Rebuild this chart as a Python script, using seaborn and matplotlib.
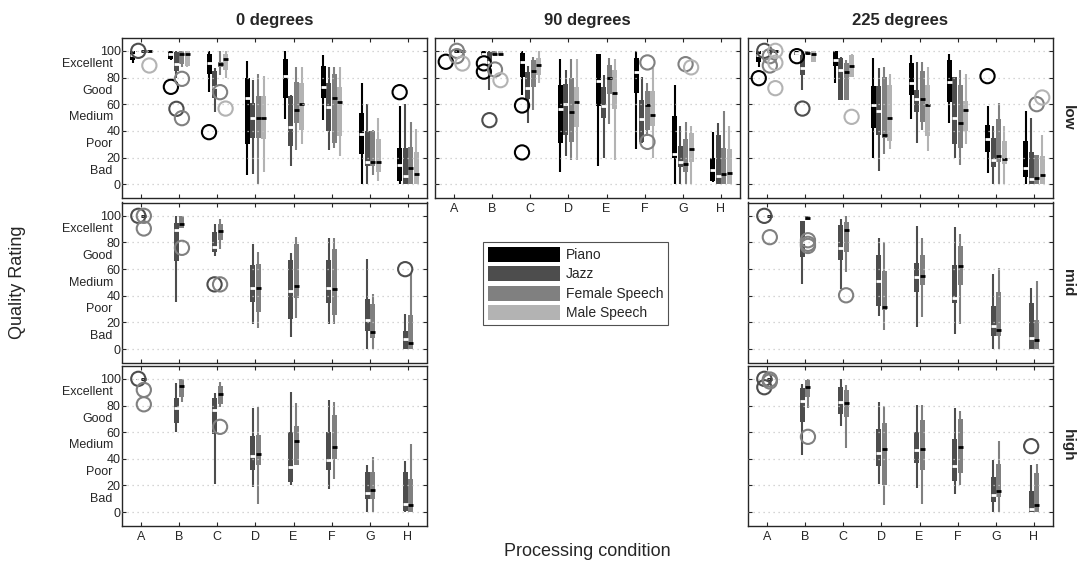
import numpy as np
import pandas as pd
import matplotlib
matplotlib.use("Agg")
import matplotlib.pyplot as plt
from matplotlib.patches import Patch
from matplotlib.transforms import blended_transform_factory
import seaborn as sns

CONDS = ["A", "B", "C", "D", "E", "F", "G", "H"]
SOURCES = ["Piano", "Jazz", "Female Speech", "Male Speech"]
COL_TITLES = ["0 degrees", "90 degrees", "225 degrees"]
ROW_TITLES = ["low", "mid", "high"]
RATING_TICKS = [0, 20, 40, 60, 80, 100]
RATING_WORDS = ["Bad", "Poor", "Medium", "Good", "Excellent"]
RATING_WORD_POS = [10, 30, 50, 70, 90]

# each box: (whisker low, q1, median, q3, whisker high) for A..H

# low, 0 degrees
low0_piano = [(91, 93.5, 97, 100, 100), (93, 94, 98, 100, 100), (69.5, 82.4, 90.6, 97.5, 100), (7, 30.4, 64.6, 79.5, 92.6),
              (49, 64.6, 81, 94, 100), (48.5, 64.6, 72.8, 88.6, 96.8), (0, 22.5, 37.4, 53.5, 76), (0, 2.7, 14.4, 27, 59)]
low0_jazz = [(99, 99.5, 100, 100, 100), (80, 85, 90, 99, 100), (54, 64.6, 73, 85, 87), (8, 35, 49.8, 61, 78),
             (14, 29, 43, 66, 67), (26, 40, 58, 75.7, 88), (0, 14, 17, 40, 60), (0, 0, 6, 27, 60)]
low0_female = [(99, 99.5, 100, 100, 100), (88, 90.5, 97.5, 100, 100), (82, 88, 90, 92, 100), (0, 35, 49.8, 66, 82.4),
               (26, 46, 56, 77, 88), (27, 31, 64.6, 82.7, 88), (7, 14, 17, 40, 41), (0, 0, 12.4, 28, 47)]
low0_male = [(99, 99.5, 100, 100, 100), (88, 89, 97.5, 100, 100), (79.5, 85.6, 93.6, 97.5, 100), (9.4, 33.7, 49.8, 66, 81.4),
             (30, 41, 60.4, 75.7, 88), (21, 36, 61.4, 73, 88), (2.7, 9, 17, 33.7, 50), (0, 0, 7.7, 24, 41.6)]
low0_out = [("A", "Jazz", 100), ("A", "Male Speech", 89), ("B", "Piano", 73), ("B", "Jazz", 56.5),
            ("B", "Female Speech", 79), ("B", "Female Speech", 49.5), ("C", "Piano", 39),
            ("C", "Female Speech", 69), ("C", "Male Speech", 56.7), ("H", "Piano", 69)]

# low, 90 degrees
low90_piano = [(99, 99.5, 100, 100, 100), (96.8, 96.8, 98, 100, 100), (67, 80.7, 91.3, 98.5, 100), (9, 31, 56.7, 74.5, 93.8),
               (13.9, 58.4, 77.7, 97.5, 98), (26.7, 68.3, 84.4, 94.3, 100), (0, 20, 22.5, 51, 74.5), (1.5, 2.7, 10.6, 20, 39)]
low90_jazz = [(99, 99.5, 100, 100, 100), (70.8, 88, 92, 99, 100), (46, 63.9, 72.5, 84.4, 89), (20.8, 36.6, 60.4, 75, 85.6),
              (20, 49.8, 59, 72.8, 82), (31, 31.5, 49, 63.4, 80.7), (0, 12.6, 17, 28.7, 43.6), (0, 0, 6.4, 36.6, 46)]
low90_female = [(99, 99.5, 100, 100, 100), (96.8, 97, 98, 100, 100), (55.4, 73, 85, 93, 95.5), (18, 32, 54, 80, 93.8),
                (44.8, 67.8, 79.5, 89.4, 94.3), (36, 41, 59.7, 69.6, 76), (0, 9, 15, 33.7, 46.5), (0, 0, 8, 27.5, 55)]
low90_male = [(99, 99.5, 100, 100, 100), (96.8, 97, 98, 100, 100), (75.7, 82, 89.4, 94.3, 100), (18, 43, 61.4, 73, 93.8),
              (18, 56.4, 68.3, 86, 94), (20, 43.6, 52, 70, 87), (0, 16.8, 26.2, 38.6, 43.6), (0, 0, 8.4, 26.7, 43.6)]
low90_out = [("A", "Piano", 91.8), ("A", "Female Speech", 100), ("A", "Female Speech", 96), ("A", "Male Speech", 90.5),
             ("B", "Piano", 90.6), ("B", "Piano", 84.4), ("B", "Jazz", 48), ("B", "Female Speech", 86),
             ("B", "Male Speech", 78), ("C", "Piano", 59), ("C", "Piano", 23.8), ("F", "Female Speech", 91.3),
             ("F", "Female Speech", 31.7), ("G", "Female Speech", 90), ("G", "Male Speech", 87.6)]

# low, 225 degrees
low225_piano = [(88, 92, 97, 100, 100), (97, 97, 98.5, 100, 100), (75.7, 88.6, 93, 100, 100), (20, 42.3, 59.7, 73.3, 94.3),
                (49, 67, 76.2, 90.6, 96.8), (46, 62, 76.5, 93, 97.5), (8.4, 23.8, 33.7, 44.3, 59), (0, 5.2, 11.9, 32.4, 55)]
low225_jazz = [(99, 99.5, 100, 100, 100), (71, 82, 87, 96.8, 100), (63.4, 63.4, 85.6, 94.3, 95.5), (10, 36.6, 54.7, 73.3, 87),
               (31, 54, 64, 70.8, 91.8), (20, 30, 50, 80.7, 80.7), (0, 12.6, 18, 35, 43.6), (0, 0, 4, 24, 50)]
low225_female = [(99, 99.5, 100, 100, 100), (97, 97.5, 98.5, 100, 100), (63.4, 63.4, 84, 90.6, 93), (22.5, 35, 36.9, 80.7, 88),
                 (41, 47, 64, 85, 91.8), (14.4, 27.5, 46, 74.5, 86), (0, 16.3, 21.3, 49, 61), (0, 0, 4.7, 21.8, 21.8)]
low225_male = [(99, 99.5, 100, 100, 100), (92, 92, 97.5, 100, 100), (80.7, 80.7, 88.6, 96.8, 98), (26.7, 32.4, 49.8, 74.5, 83),
               (25, 36, 59.7, 74.5, 88), (30, 39.8, 55.4, 62.6, 83), (0, 15, 18.8, 32.4, 43.6), (0, 0, 7, 21, 36.6)]
low225_out = [("A", "Piano", 79.5), ("A", "Jazz", 100), ("A", "Female Speech", 96), ("A", "Female Speech", 89),
              ("A", "Male Speech", 100), ("A", "Male Speech", 91), ("A", "Male Speech", 72), ("B", "Piano", 96),
              ("B", "Jazz", 56.7), ("C", "Male Speech", 50.5), ("G", "Piano", 81),
              ("H", "Female Speech", 60), ("H", "Male Speech", 65)]

# mid, 0 degrees
mid0_jazz = [(99, 99.5, 100, 100, 100), (35, 66, 89, 94.7, 100), (69.7, 73, 76.7, 87.5, 94), (19, 35.3, 46, 63.4, 79),
             (9, 22.8, 43.6, 67, 72), (18.5, 34.6, 46, 66.6, 83.5), (0, 13.5, 21.5, 37.8, 67.4), (0, 0, 7.8, 13.5, 26)]
mid0_female = [(99, 99.5, 100, 100, 100), (90.5, 90.5, 93.7, 100, 100), (75.4, 81.7, 88.7, 94, 97.5), (16, 27.8, 46, 64, 73),
               (23.5, 38.6, 47, 79, 84), (18.5, 25.3, 45.4, 75.4, 83), (0, 8.5, 12.5, 34, 41.6), (0, 0, 4.5, 25.8, 57)]
mid0_out = [("A", "Jazz", 100), ("A", "Female Speech", 100), ("A", "Female Speech", 90.5),
            ("B", "Female Speech", 76), ("C", "Jazz", 48.6), ("C", "Female Speech", 48.6), ("H", "Jazz", 60)]

# mid, 225 degrees
mid225_jazz = [(99, 99.5, 100, 100, 100), (49, 69, 80.5, 96, 96), (45, 66.7, 76, 93, 97.5), (25, 32, 51, 70.4, 83.5),
               (16.5, 43, 54, 65, 92.5), (11.5, 34.6, 38.3, 63, 91.7), (0, 9.5, 17.3, 32, 56.6), (0, 0, 8.3, 34.6, 46)]
mid225_female = [(99, 99.5, 100, 100, 100), (96.7, 96.7, 98.5, 100, 100), (58, 73, 89, 95, 100), (14, 29, 31.6, 59, 80.5),
                 (24, 48, 55, 70.4, 83), (18.5, 48, 62.4, 77, 86.7), (0, 9.5, 14.5, 43, 61), (0, 0, 7, 22, 51)]
mid225_out = [("A", "Jazz", 100), ("A", "Female Speech", 84), ("B", "Female Speech", 81.7),
              ("B", "Female Speech", 79), ("B", "Female Speech", 77.4), ("C", "Female Speech", 40.4)]

# high, 0 degrees
high0_jazz = [(99, 99.5, 100, 100, 100), (60, 66.6, 78, 86, 96.7), (21.4, 59, 77, 86, 89.7), (19, 31.4, 42, 57, 78.4),
              (20, 22.6, 34, 60.3, 90.5), (17, 31.4, 39, 60.3, 84), (0, 10, 14.6, 30, 35.7), (0, 0.5, 5.8, 30, 38.4)]
high0_female = [(99, 99.5, 100, 100, 100), (83, 86.7, 95, 100, 100), (79, 81, 88.4, 95, 98), (6.3, 35, 43.7, 57.8, 79),
                (35, 35, 53.5, 65, 81.7), (25, 40, 49, 73, 83), (0, 10, 16.3, 30, 41.5), (0, 0, 5.5, 25, 51.5)]
high0_out = [("A", "Jazz", 100), ("A", "Female Speech", 91.7), ("A", "Female Speech", 80.9),
             ("C", "Female Speech", 64)]

# high, 225 degrees
high225_jazz = [(99, 99.5, 100, 100, 100), (43, 67.8, 83.4, 93, 96), (64.6, 74, 82.4, 94, 100), (21.4, 34.7, 44.7, 62.3, 82.4),
                (18, 37, 46.5, 59.8, 80.4), (13.8, 23, 34.4, 55, 78), (0, 7.5, 12.6, 26.4, 39.4), (0, 0, 2, 15.6, 35.7)]
high225_female = [(99, 99.5, 100, 100, 100), (78.4, 86.7, 93.7, 99, 100), (48.5, 71.6, 81.7, 91.7, 95.5), (5, 20, 47, 66.6, 80),
                  (6.3, 31.4, 47.7, 69, 80.4), (20, 29.6, 49, 70, 76), (0, 11.3, 15.8, 36, 53.5), (0, 0, 5, 29.4, 36)]
high225_out = [("A", "Jazz", 93.7), ("A", "Jazz", 100), ("A", "Female Speech", 99.5), ("A", "Female Speech", 98),
               ("B", "Female Speech", 56.5), ("H", "Jazz", 49.5)]

PALETTE = {"Piano": "#000000", "Jazz": "#4d4d4d", "Female Speech": "#808080", "Male Speech": "#b3b3b3"}
MEDIAN_COLOR = {"Piano": "white", "Jazz": "white", "Female Speech": "black", "Male Speech": "black"}
BOX_WIDTH = 0.58

panels = {
    (0, 0): ({"Piano": low0_piano, "Jazz": low0_jazz, "Female Speech": low0_female, "Male Speech": low0_male}, low0_out),
    (0, 1): ({"Piano": low90_piano, "Jazz": low90_jazz, "Female Speech": low90_female, "Male Speech": low90_male}, low90_out),
    (0, 2): ({"Piano": low225_piano, "Jazz": low225_jazz, "Female Speech": low225_female, "Male Speech": low225_male}, low225_out),
    (1, 0): ({"Jazz": mid0_jazz, "Female Speech": mid0_female}, mid0_out),
    (1, 2): ({"Jazz": mid225_jazz, "Female Speech": mid225_female}, mid225_out),
    (2, 0): ({"Jazz": high0_jazz, "Female Speech": high0_female}, high0_out),
    (2, 2): ({"Jazz": high225_jazz, "Female Speech": high225_female}, high225_out),
}

sns.set_style("ticks")
plt.rcParams["font.family"] = ["Liberation Sans", "DejaVu Sans"]


def long_frame(stats, src):
    rows = []
    for cond, five in zip(CONDS, stats):
        for v in five:
            rows.append((cond, src, v))
    return pd.DataFrame(rows, columns=["cond", "src", "rating"])


def draw_panel(ax, boxes, outliers):
    for src, stats in boxes.items():
        sns.boxplot(data=long_frame(stats, src), x="cond", y="rating", hue="src",
                    order=CONDS, hue_order=SOURCES, palette=PALETTE, saturation=1,
                    dodge=True, width=BOX_WIDTH, gap=0.1, whis=(0, 100),
                    linecolor=PALETTE[src], linewidth=1.5, showcaps=False,
                    boxprops=dict(linewidth=0),
                    medianprops=dict(color=MEDIAN_COLOR[src], linewidth=2, solid_capstyle="butt"),
                    legend=False, ax=ax)
    # outliers sit in the same dodge slots as the boxes
    slot = BOX_WIDTH / len(SOURCES)
    xs = [CONDS.index(c) + slot * (SOURCES.index(s) + 0.5) - BOX_WIDTH / 2 for c, s, v in outliers]
    ys = [v for c, s, v in outliers]
    cs = [PALETTE[s] for c, s, v in outliers]
    ax.scatter(xs, ys, s=105, facecolors="none", edgecolors=cs, linewidths=1.5, zorder=5)


fig = plt.figure(figsize=(10.78, 5.65), dpi=100)
W, H = 305 / 1078, 160 / 565
lefts = [122 / 1078, 435 / 1078, 748 / 1078]
bottoms = [1 - 197.5 / 565, 1 - 362.5 / 565, 1 - 525.5 / 565]

for (r, c), (boxes, outliers) in panels.items():
    ax = fig.add_axes([lefts[c], bottoms[r], W, H])
    draw_panel(ax, boxes, outliers)
    ax.set_xlim(-0.5, 7.5)
    ax.set_ylim(-10, 110)
    ax.set_xticks(range(len(CONDS)))
    ax.set_xticklabels(CONDS)
    ax.set_yticks(RATING_TICKS)
    ax.set_xlabel("")
    ax.set_ylabel("")
    ax.tick_params(direction="in", length=3, top=True, right=True, labelsize=9,
                   color="#262626", labelcolor="#262626", width=0.8)
    ax.tick_params(axis="y", pad=1)
    ax.tick_params(axis="x", pad=4)
    ax.grid(axis="y", color="#c8c8c8", linestyle=(0, (1, 3)), linewidth=0.9)
    ax.grid(axis="x", visible=False)
    ax.set_axisbelow(False)
    for sp in ax.spines.values():
        sp.set_color("#262626")
        sp.set_linewidth(1.0)
    if c != 0:
        ax.set_yticklabels([])
    else:
        tr = blended_transform_factory(ax.transAxes, ax.transData)
        for pos, word in zip(RATING_WORD_POS, RATING_WORDS):
            ax.text(-0.03, pos, word, transform=tr, ha="right", va="center", fontsize=9, color="#262626")
    last_row = 0 if c == 1 else 2
    if r != last_row:
        ax.set_xticklabels([])

for c, title in enumerate(COL_TITLES):
    fig.text(lefts[c] + W / 2, 1 - 20 / 565, title, ha="center", va="center",
             fontsize=12, fontweight="bold", color="#262626")
for r, title in enumerate(ROW_TITLES):
    fig.text(1068 / 1078, bottoms[r] + H / 2, title, ha="center", va="center",
             rotation=-90, fontsize=11, fontweight="bold", color="#262626")

fig.text(18 / 1078, bottoms[1] + H / 2, "Quality Rating", rotation=90, ha="center", va="center",
         fontsize=13, color="#262626")
fig.text((lefts[0] + lefts[2] + W) / 2, 1 - 551 / 565, "Processing condition", ha="center", va="center",
         fontsize=13, color="#262626")

handles = [Patch(facecolor=PALETTE[s], edgecolor="none", label=s) for s in SOURCES]
leg = fig.legend(handles=handles, loc="upper left", bbox_to_anchor=(483 / 1078, 1 - 242 / 565),
                 frameon=True, fancybox=False, fontsize=10, handlelength=5.2, handleheight=1.3,
                 labelspacing=0.3, handletextpad=0.4, borderpad=0.35, borderaxespad=0)
leg.get_frame().set_edgecolor("#262626")
leg.get_frame().set_linewidth(0.8)

fig.savefig("out.png", dpi=100)
